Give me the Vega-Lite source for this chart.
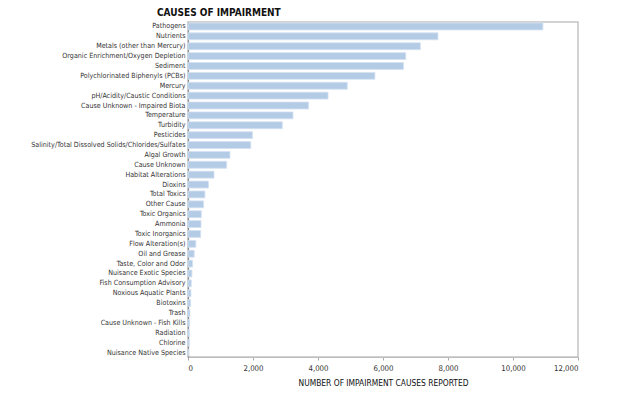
{
  "$schema": "https://vega.github.io/schema/vega-lite/v6.json",
  "autosize": "none",
  "padding": {"left": 188, "top": 22, "right": 64, "bottom": 41},
  "width": 390,
  "height": 335,
  "background": "white",
  "title": {
    "text": "CAUSES OF IMPAIRMENT",
    "anchor": "start",
    "frame": "group",
    "dx": -31,
    "offset": 4,
    "font": "DejaVu Sans Condensed",
    "fontSize": 10,
    "fontWeight": "bold",
    "color": "#111"
  },
  "config": {
    "view": {"stroke": "#c4c4c4", "strokeWidth": 1.5},
    "font": "DejaVu Sans Condensed"
  },
  "data": {
    "values": [
      {"cause": "Pathogens", "count": 10920},
      {"cause": "Nutrients", "count": 7690},
      {"cause": "Metals (other than Mercury)", "count": 7150},
      {"cause": "Organic Enrichment/Oxygen Depletion", "count": 6700},
      {"cause": "Sediment", "count": 6630},
      {"cause": "Polychlorinated Biphenyls (PCBs)", "count": 5750},
      {"cause": "Mercury", "count": 4900},
      {"cause": "pH/Acidity/Caustic Conditions", "count": 4310},
      {"cause": "Cause Unknown - Impaired Biota", "count": 3710},
      {"cause": "Temperature", "count": 3230},
      {"cause": "Turbidity", "count": 2900},
      {"cause": "Pesticides", "count": 1980},
      {"cause": "Salinity/Total Dissolved Solids/Chlorides/Sulfates", "count": 1930},
      {"cause": "Algal Growth", "count": 1290},
      {"cause": "Cause Unknown", "count": 1190},
      {"cause": "Habitat Alterations", "count": 800},
      {"cause": "Dioxins", "count": 630},
      {"cause": "Total Toxics", "count": 520},
      {"cause": "Other Cause", "count": 480},
      {"cause": "Toxic Organics", "count": 410},
      {"cause": "Ammonia", "count": 400},
      {"cause": "Toxic Inorganics", "count": 390},
      {"cause": "Flow Alteration(s)", "count": 240},
      {"cause": "Oil and Grease", "count": 190},
      {"cause": "Taste, Color and Odor", "count": 140},
      {"cause": "Nuisance Exotic Species", "count": 120},
      {"cause": "Fish Consumption Advisory", "count": 100},
      {"cause": "Noxious Aquatic Plants", "count": 90},
      {"cause": "Biotoxins", "count": 80},
      {"cause": "Trash", "count": 60},
      {"cause": "Cause Unknown - Fish Kills", "count": 50},
      {"cause": "Radiation", "count": 40},
      {"cause": "Chlorine", "count": 40},
      {"cause": "Nuisance Native Species", "count": 20}
    ]
  },
  "mark": {"type": "bar", "color": "#b4cbe6", "stroke": "#d3e1f1", "strokeWidth": 0.8},
  "encoding": {
    "y": {
      "field": "cause",
      "type": "nominal",
      "sort": null,
      "scale": {"paddingInner": 0.3, "paddingOuter": 0.1},
      "axis": {
        "title": null,
        "ticks": false,
        "labelPadding": 3,
        "labelFontSize": 7.1,
        "labelColor": "#333",
        "labelFont": "DejaVu Sans Condensed",
        "domainColor": "#8a8a8a",
        "domainWidth": 1.2,
        "labelLimit": 300
      }
    },
    "x": {
      "field": "count",
      "type": "quantitative",
      "scale": {"domain": [0, 12000], "nice": false},
      "axis": {
        "title": "NUMBER OF IMPAIRMENT CAUSES REPORTED",
        "titleFont": "DejaVu Sans Condensed",
        "titleFontSize": 8.4,
        "titleFontWeight": "normal",
        "titleColor": "#111",
        "titlePadding": 7,
        "values": [0, 2000, 4000, 6000, 8000, 10000, 12000],
        "format": ",d",
        "grid": false,
        "tickSize": 3,
        "tickColor": "#aaa",
        "labelFontSize": 7.8,
        "labelColor": "#333",
        "labelPadding": 4,
        "domainColor": "#bdbdbd",
        "domainWidth": 1.2
      }
    }
  }
}
